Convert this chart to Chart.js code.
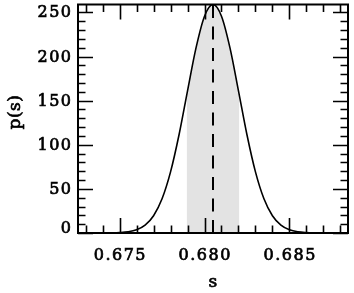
<!DOCTYPE html>
<html>
<head>
<meta charset="utf-8">
<script src="https://cdn.jsdelivr.net/npm/chart.js@4"></script>
<style>
  html, body { margin: 0; padding: 0; background: #fff; }
  #wrap { width: 354px; height: 293px; }
</style>
</head>
<body>
<div id="wrap"><canvas id="chart" width="354" height="293"></canvas></div>
<script>
// posterior curve p(s)
const sValues = [0.6735, 0.6740, 0.6745, 0.6750, 0.6755, 0.6760, 0.6765, 0.6770, 0.6775, 0.6780,
  0.6785, 0.6790, 0.6795, 0.6800, 0.6805, 0.6810, 0.6815, 0.6820, 0.6825, 0.6830,
  0.6835, 0.6840, 0.6845, 0.6850, 0.6855, 0.6860, 0.6865, 0.6870, 0.6875];
const pValues = [0.01, 0.035, 0.13, 0.44, 1.3, 3.6, 8.9, 19.6, 38.8, 69.3,
  111.4, 161.2, 209.8, 245.7, 259, 245.7, 209.8, 161.2, 111.4, 69.3,
  38.8, 19.6, 8.9, 3.6, 1.3, 0.44, 0.13, 0.035, 0.01];

// shaded interval under the curve
const shadeS = [0.67895, 0.6790, 0.6795, 0.6800, 0.6805, 0.6810, 0.6815, 0.6820, 0.68205];
const shadeP = [156, 161.2, 209.8, 245.7, 259, 245.7, 209.8, 161.2, 156];

// dashed marker at the peak
const peakS = [0.6805, 0.6805];
const peakP = [0, 259];

// axes
const xMin = 0.67255, xMax = 0.68845;
const yMin = 0, yMax = 259;
const xTicks = [0.675, 0.680, 0.685];
const xTickLabels = ['0.675', '0.680', '0.685'];
const yTicks = [0, 50, 100, 150, 200, 250];
const yTickLabels = ['0', '50', '100', '150', '200', '250'];
const xMinorStep = 0.001, yMinorStep = 10;
const xTitle = 's', yTitle = 'p(s)';

const FONT = '16px "DejaVu Serif", serif';

const toPts = (xs, ys) => xs.map((x, i) => ({ x, y: ys[i] }));

// fill + thin stroke so the serif text looks as heavy as the original
function heavyText(ctx, str, x, y) {
  ctx.fillText(str, x, y);
  ctx.strokeText(str, x, y);
}

// frame, inward ticks and all the labels
const framePlugin = {
  id: 'frame',
  afterDraw(chart) {
    const { ctx, chartArea: a, scales } = chart;
    const xs = scales.x, ys = scales.y;
    const major = 15, minor = 7.5;
    ctx.save();
    ctx.strokeStyle = '#000';
    ctx.lineWidth = 1.6;
    ctx.beginPath();
    // x ticks (bottom + top)
    const xStart = Math.ceil(xs.min / xMinorStep - 1e-6);
    for (let i = xStart; i * xMinorStep <= xs.max + 1e-9; i++) {
      const v = i * xMinorStep;
      const isMajor = xTicks.some(t => Math.abs(t - v) < 1e-7);
      const len = isMajor ? major : minor;
      const px = Math.round(xs.getPixelForValue(v)) + 0.5;
      ctx.moveTo(px, a.bottom); ctx.lineTo(px, a.bottom - len);
      ctx.moveTo(px, a.top); ctx.lineTo(px, a.top + len);
    }
    // y ticks (left + right)
    for (let v = yMin; v <= ys.max + 1e-9; v += yMinorStep) {
      const isMajor = yTicks.includes(v);
      const len = isMajor ? major : minor;
      const py = Math.round(ys.getPixelForValue(v)) + 0.5;
      ctx.moveTo(a.left, py); ctx.lineTo(a.left + len, py);
      ctx.moveTo(a.right, py); ctx.lineTo(a.right - len, py);
    }
    ctx.stroke();

    ctx.lineWidth = 2;
    ctx.strokeRect(a.left, a.top, a.right - a.left, a.bottom - a.top);

    // tick labels
    ctx.fillStyle = '#000';
    ctx.lineWidth = 0.7;
    ctx.font = FONT;
    ctx.letterSpacing = '1.5px';
    ctx.textBaseline = 'alphabetic';
    ctx.textAlign = 'center';
    xTicks.forEach((t, i) => {
      heavyText(ctx, xTickLabels[i], xs.getPixelForValue(t) + 0.75, a.bottom + 27);
    });
    ctx.textAlign = 'right';
    yTicks.forEach((t, i) => {
      const py = Math.min(ys.getPixelForValue(t) + 5, a.bottom);
      heavyText(ctx, yTickLabels[i], a.left - 5.5, py);
    });

    // axis titles
    ctx.font = '17px "DejaVu Serif", serif';
    ctx.letterSpacing = '0.5px';
    ctx.textAlign = 'center';
    heavyText(ctx, xTitle, (a.left + a.right) / 2, 287);
    ctx.translate(20, 112);
    ctx.rotate(-Math.PI / 2);
    heavyText(ctx, yTitle, 0, 0);
    ctx.restore();
  }
};

new Chart(document.getElementById('chart'), {
  type: 'line',
  data: {
    datasets: [
      {
        data: toPts(peakS, peakP),
        borderColor: '#000',
        borderWidth: 2,
        borderDash: [13, 8.5],
        pointRadius: 0,
        fill: false,
      },
      {
        data: toPts(sValues, pValues),
        borderColor: '#000',
        borderWidth: 1.6,
        cubicInterpolationMode: 'monotone',
        pointRadius: 0,
        fill: false,
      },
      {
        data: toPts(shadeS, shadeP),
        borderWidth: 0,
        borderColor: 'rgba(0,0,0,0)',
        backgroundColor: '#e3e3e3',
        cubicInterpolationMode: 'monotone',
        pointRadius: 0,
        fill: 'origin',
      },
    ],
  },
  options: {
    responsive: false,
    animation: false,
    events: [],
    layout: { padding: { left: 78, right: 6, top: 4.5, bottom: 60 } },
    plugins: { legend: { display: false }, tooltip: { enabled: false } },
    scales: {
      x: { type: 'linear', min: xMin, max: xMax, display: false },
      y: { type: 'linear', min: yMin, max: yMax, display: false },
    },
  },
  plugins: [framePlugin],
});
</script>
</body>
</html>
